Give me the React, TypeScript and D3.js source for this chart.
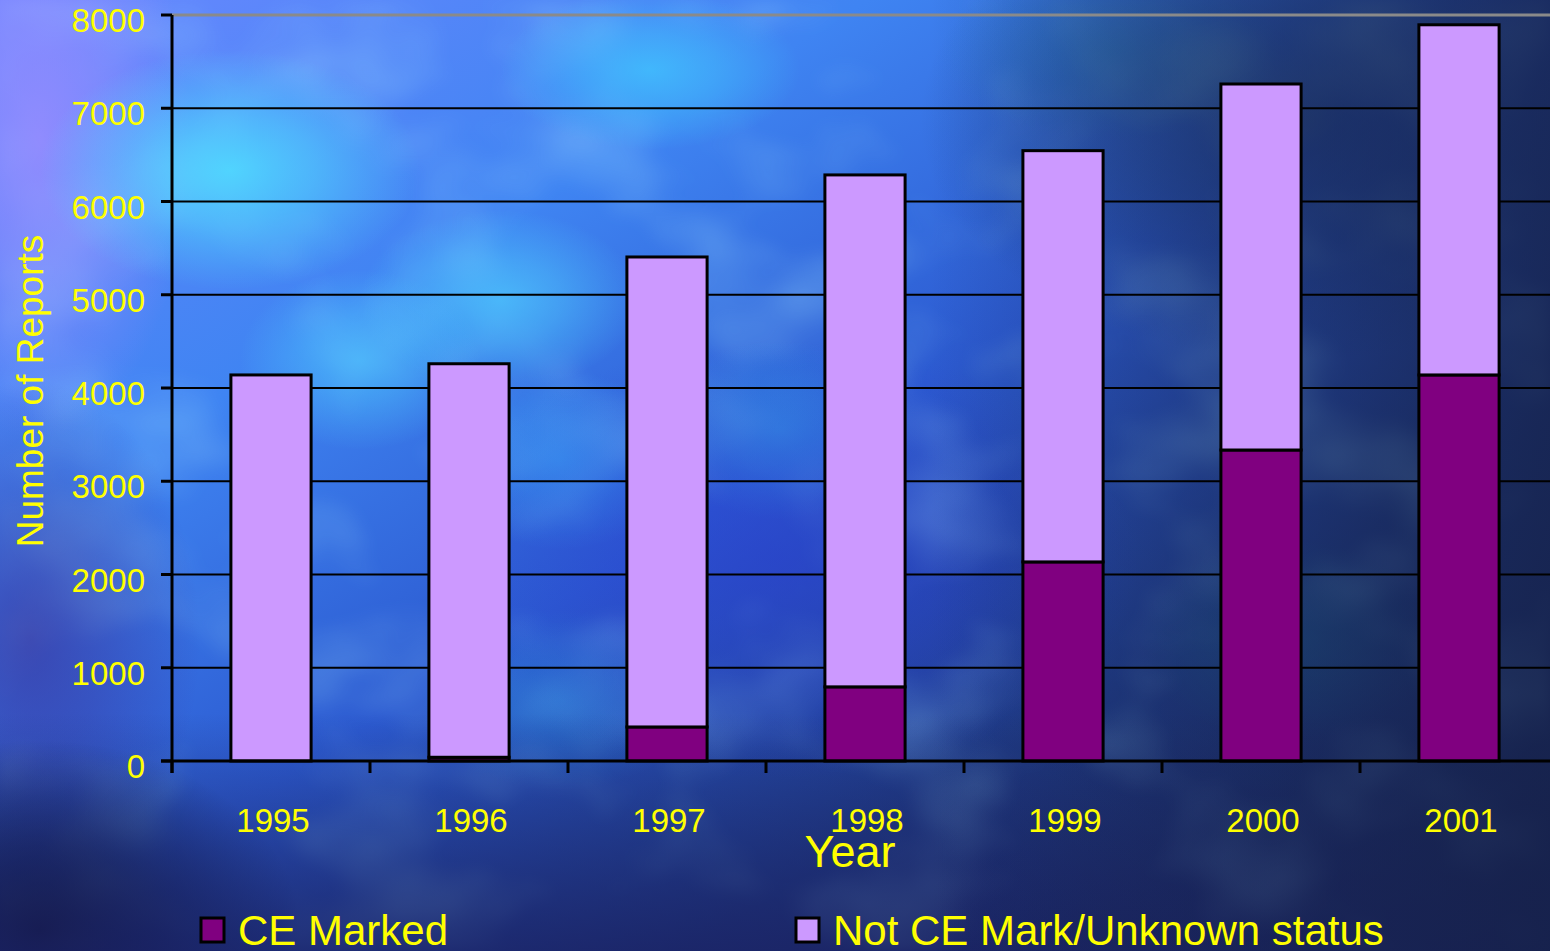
import React from 'react';
import * as d3 from 'd3';

// Report counts per year, split by CE marking status
const years = ['1995', '1996', '1997', '1998', '1999', '2000', '2001'];
const ceMarked = [0, 40, 365, 795, 2135, 3335, 4140];
const notCeMarked = [4140, 4220, 5040, 5490, 4410, 3925, 3755];
const seriesKeys = ['ce', 'not'];
const seriesNames = ['CE Marked', 'Not CE Mark/Unknown status'];
const seriesColors = ['#800080', '#cc99ff'];
const yTicks = [0, 1000, 2000, 3000, 4000, 5000, 6000, 7000, 8000];

// soft light/dark patches of the cloudy backdrop: [cx, cy, rx, ry, colour, opacity]
const blobs: [number, number, number, number, string, number][] = [
  [40, 140, 150, 300, '#a08cff', 0.75],
  [30, 640, 170, 260, '#3a2890', 0.6],
  [230, 170, 190, 120, '#4fe0ff', 0.85],
  [650, 70, 150, 80, '#40c8ff', 0.75],
  [500, 300, 140, 90, '#50d0ff', 0.7],
  [360, 360, 120, 90, '#50d0ff', 0.6],
  [560, 460, 120, 90, '#3ab0ff', 0.5],
  [780, 430, 120, 90, '#3ab0f0', 0.5],
  [560, 700, 140, 90, '#2a90e0', 0.45],
  [780, 560, 360, 220, '#2a3ad0', 0.5],
  [1110, 50, 170, 90, '#2a80c0', 0.5],
  [1300, 120, 380, 240, '#16284e', 0.6],
  [1290, 640, 150, 100, '#1f6a90', 0.45],
  [40, 930, 260, 190, '#0a0a28', 0.9],
];

const W = 1550;
const H = 951;
const FONT = '"Liberation Sans", Arial, sans-serif';
const YELLOW = '#ffff00';

export default function App() {
  const table = years.map((year, i) => ({ year, ce: ceMarked[i], not: notCeMarked[i] }));
  const stacked = d3.stack<any>().keys(seriesKeys)(table);

  const x = d3.scaleBand().domain(years).range([172, 1558]).padding(0);
  const y = d3.scaleLinear().domain([0, 8000]).range([761, 15]);
  const step = x.step();
  const barW = step * 0.405;
  const left = x.range()[0];
  const bottom = y(0);

  return (
    <svg
      width={W}
      height={H}
      style={{ position: 'absolute', left: 0, top: 0, display: 'block' }}
      fontFamily={FONT}
    >
      <defs>
        <linearGradient id="bgBase" x1="0" y1="0" x2="1" y2="1">
          <stop offset="0" stopColor="#6a88ff" />
          <stop offset="0.28" stopColor="#3f84f2" />
          <stop offset="0.5" stopColor="#2c5ad0" />
          <stop offset="0.72" stopColor="#1f3a86" />
          <stop offset="1" stopColor="#18204c" />
        </linearGradient>
        <linearGradient id="bgBottom" x1="0" y1="0" x2="0" y2="1">
          <stop offset="0" stopColor="#1a2260" stopOpacity="0" />
          <stop offset="0.75" stopColor="#1a2260" stopOpacity="0" />
          <stop offset="1" stopColor="#1a2060" stopOpacity="0.75" />
        </linearGradient>
        <linearGradient id="bgRight" x1="0" y1="0" x2="1" y2="0">
          <stop offset="0.6" stopColor="#16264e" stopOpacity="0" />
          <stop offset="1" stopColor="#16224a" stopOpacity="0.8" />
        </linearGradient>
        {blobs.map(([, , , , c, o], i) => (
          <radialGradient key={i} id={`blob${i}`}>
            <stop offset="0" stopColor={c} stopOpacity={o} />
            <stop offset="0.45" stopColor={c} stopOpacity={o * 0.6} />
            <stop offset="1" stopColor={c} stopOpacity={0} />
          </radialGradient>
        ))}
        <filter id="clouds" x="0" y="0" width="100%" height="100%">
          <feTurbulence type="fractalNoise" baseFrequency="0.006 0.008" numOctaves="3" seed="7" />
          <feColorMatrix
            type="matrix"
            values="0 0 0 0 0.35
                    0 0 0 0 0.75
                    0 0 0 0 1
                    1.6 0 0 0 -0.75"
          />
          <feGaussianBlur stdDeviation="6" />
        </filter>
      </defs>

      {/* cloudy blue backdrop */}
      <rect width={W} height={H} fill="url(#bgBase)" />
      <rect width={W} height={H} fill="#fff" filter="url(#clouds)" opacity={0.55} />
      {blobs.map(([cx, cy, rx, ry], i) => (
        <ellipse key={i} cx={cx} cy={cy} rx={rx} ry={ry} fill={`url(#blob${i})`} />
      ))}
      <rect width={W} height={H} fill="url(#bgBottom)" />
      <rect width={W} height={H} fill="url(#bgRight)" />

      {/* horizontal gridlines */}
      {yTicks.map((t) => (
        <line
          key={`g${t}`}
          x1={left}
          x2={W}
          y1={y(t)}
          y2={y(t)}
          stroke={t === 8000 ? '#8a8a8a' : '#000'}
          strokeWidth={t === 8000 ? 3 : 2}
        />
      ))}

      {/* stacked bars */}
      {stacked.map((s, si) => (
        <g key={s.key}>
          {s.map((d: any, i: number) => {
            const v = d[1] - d[0];
            if (v <= 0) return null;
            const x0 = (x(years[i]) as number) + (step - barW) / 2;
            return (
              <rect
                key={years[i]}
                x={x0}
                y={y(d[1])}
                width={barW}
                height={y(d[0]) - y(d[1])}
                fill={seriesColors[si]}
                stroke="#000"
                strokeWidth={3}
              />
            );
          })}
        </g>
      ))}

      {/* axes */}
      <line x1={left} x2={left} y1={y(8000)} y2={bottom + 12} stroke="#000" strokeWidth={3} />
      <line x1={left - 11} x2={W} y1={bottom} y2={bottom} stroke="#000" strokeWidth={3} />
      {yTicks.map((t) => (
        <line key={`yt${t}`} x1={left - 11} x2={left} y1={y(t)} y2={y(t)} stroke="#000" strokeWidth={3} />
      ))}
      {years.map((yr) => (
        <line
          key={`xt${yr}`}
          x1={x(yr) as number}
          x2={x(yr) as number}
          y1={bottom}
          y2={bottom + 12}
          stroke="#000"
          strokeWidth={3}
        />
      ))}

      {/* tick labels */}
      {yTicks.map((t) => (
        <text key={`yl${t}`} x={145} y={y(t) + 17} textAnchor="end" fontSize={33} fill={YELLOW}>
          {t}
        </text>
      ))}
      {years.map((yr) => (
        <text
          key={`xl${yr}`}
          x={(x(yr) as number) + step / 2 + 2}
          y={832}
          textAnchor="middle"
          fontSize={33}
          fill={YELLOW}
        >
          {yr}
        </text>
      ))}

      {/* axis titles */}
      <text x={850} y={867} textAnchor="middle" fontSize={45} fill={YELLOW}>
        Year
      </text>
      <text
        transform="translate(43,391) rotate(-90)"
        textAnchor="middle"
        fontSize={37}
        fill={YELLOW}
      >
        Number of Reports
      </text>

      {/* legend */}
      {seriesNames.map((name, i) => {
        const lx = [201, 796][i];
        return (
          <g key={name}>
            <rect x={lx} y={918} width={23} height={24} fill={seriesColors[i]} stroke="#000" strokeWidth={3} />
            <text x={lx + 37} y={945} fontSize={42} fill={YELLOW}>
              {name}
            </text>
          </g>
        );
      })}
    </svg>
  );
}
